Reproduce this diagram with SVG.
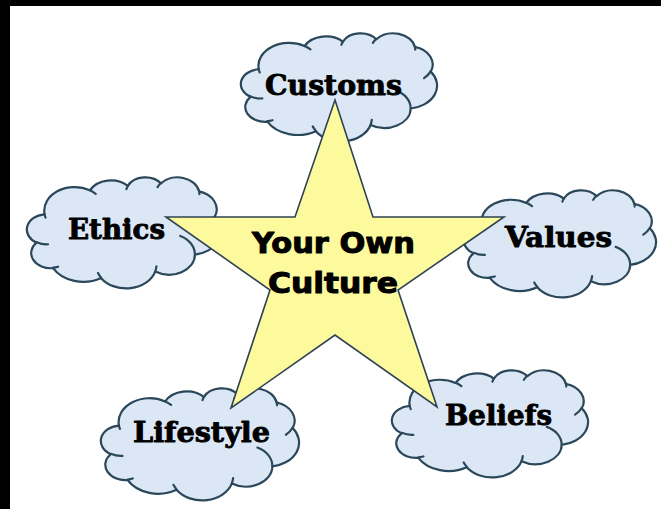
<svg xmlns="http://www.w3.org/2000/svg" xmlns:xlink="http://www.w3.org/1999/xlink" width="661" height="509" viewBox="0 0 661 509">
  <style>
    .cloud-body { fill: #dbe7f4; stroke: #2b475a; stroke-width: 2.2; vector-effect: non-scaling-stroke; stroke-linejoin: round; }
    .cloud-crease { fill: none; stroke: #2b475a; stroke-width: 2.2; vector-effect: non-scaling-stroke; stroke-linecap: round; }
    .label { font-family: "DejaVu Serif", "Liberation Serif", serif; font-weight: bold; font-size: 28px; fill: #000; stroke: #000; stroke-width: 0.9; stroke-linejoin: round; }
    .star { fill: #fdf99d; stroke: #2e4354; stroke-width: 1.6; stroke-linejoin: miter; }
    .title { font-family: "DejaVu Sans", "Liberation Sans", sans-serif; font-weight: bold; font-size: 28px; fill: #000; stroke: #000; stroke-width: 1; stroke-linejoin: round; }
  </style>
  <defs>
    <!-- cloud outline in a 43200 x 43200 box, scaled into place per node -->
    <g id="cloud">
      <path class="cloud-body" d="M 3900 14370 A 6753 9190 0 0 1 14006 5203 A 5333 7267 0 0 1 22457 3433 A 4365 5945 0 0 1 29835 2483 A 4857 6595 0 0 1 38320 5578 A 5333 7273 0 0 1 41820 15462 A 6775 9220 0 0 1 37404 30202 A 5785 7867 0 0 1 28556 36812 A 6752 9215 0 0 1 16481 39265 A 7720 10543 0 0 1 5803 35470 A 4360 5918 0 0 1 2111 25550 A 4345 5945 0 0 1 3861 14507 Z"/>
      <path class="cloud-crease" d="M 4693 26177 A 4345 5945 0 0 1 2159 25380 M 6928 34899 A 4360 5918 0 0 1 5820 35281 M 16478 39090 A 6752 9215 0 0 1 15810 37349 M 28827 34751 A 6752 9215 0 0 1 28561 36659 M 34129 22954 A 5785 7867 0 0 1 37381 30090 M 41798 15354 A 5333 7273 0 0 1 40350 18030 M 38324 5426 A 4857 6595 0 0 1 38400 6690 M 29078 3952 A 4857 6595 0 0 1 29820 2339 M 22141 4720 A 4365 5945 0 0 1 22500 3330 M 14000 5192 A 6753 9190 0 0 1 15300 6541 M 4127 15789 A 6753 9190 0 0 1 3900 14370"/>
    </g>
  </defs>

  <!-- page -->
  <rect x="0" y="0" width="661" height="509" fill="#ffffff"/>
  <rect x="0" y="0" width="661" height="6" fill="#000000"/>
  <rect x="0" y="0" width="10" height="509" fill="#000000"/>

  <g id="node-customs">
    <use xlink:href="#cloud" href="#cloud" transform="translate(241 33) scale(0.004537 0.0025)"/>
    <text class="label" x="265" y="95" textLength="137" lengthAdjust="spacingAndGlyphs">Customs</text>
  </g>

  <g id="node-ethics">
    <use xlink:href="#cloud" href="#cloud" transform="translate(27 177) scale(0.00449 0.00257)"/>
    <text class="label" x="68" y="238.5" textLength="97" lengthAdjust="spacingAndGlyphs">Ethics</text>
  </g>

  <g id="node-values">
    <use xlink:href="#cloud" href="#cloud" transform="translate(464 190) scale(0.004444 0.002477)"/>
    <text class="label" x="505" y="246.5" textLength="107" lengthAdjust="spacingAndGlyphs">Values</text>
  </g>

  <g id="node-lifestyle">
    <use xlink:href="#cloud" href="#cloud" transform="translate(101 388) scale(0.004583 0.002593)"/>
    <text class="label" x="133" y="441.5" textLength="137" lengthAdjust="spacingAndGlyphs">Lifestyle</text>
  </g>

  <g id="node-beliefs">
    <use xlink:href="#cloud" href="#cloud" transform="translate(392 370) scale(0.004537 0.002477)"/>
    <text class="label" x="445" y="425" textLength="107" lengthAdjust="spacingAndGlyphs">Beliefs</text>
  </g>

  <g id="node-center">
    <polygon class="star" points="335,100 373,217 504,217 398,290 437,407 335,335 231,408 270,290 166,217 295,217"/>
    <text class="title" x="252" y="253" textLength="163" lengthAdjust="spacingAndGlyphs">Your Own</text>
    <text class="title" x="268" y="293" textLength="130" lengthAdjust="spacingAndGlyphs">Culture</text>
  </g>

  <g id="connectors"></g>
</svg>
